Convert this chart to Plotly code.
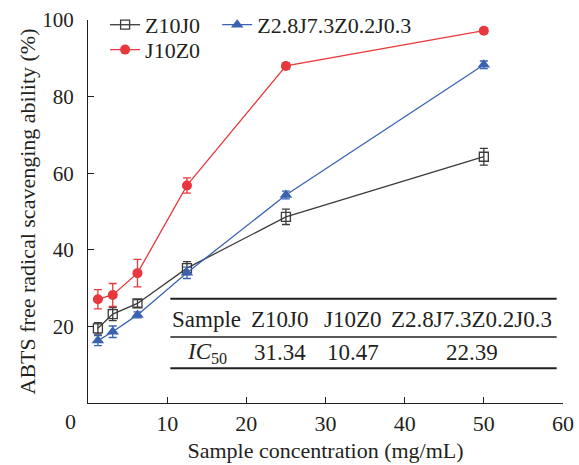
import plotly.graph_objects as go

conc = [1.25, 3.125, 6.25, 12.5, 25, 50]

z10j0 = [19.5, 23.2, 26.0, 35.2, 48.6, 64.3]
z10j0_err = [1.5, 1.7, 1.0, 1.7, 2.0, 2.2]

j10z0 = [27.1, 28.2, 33.9, 56.8, 88.0, 97.2]
j10z0_err = [2.5, 3.0, 3.6, 2.0, 0.8, 0.6]

mix = [16.3, 18.6, 23.0, 34.0, 54.3, 88.3]
mix_err = [1.3, 1.5, 0.8, 1.5, 1.0, 1.0]

table_header = ["Sample", "Z10J0", "J10Z0", "Z2.8J7.3Z0.2J0.3"]
table_row = ["<i>IC</i><sub>50</sub>", "31.34", "10.47", "22.39"]
table_cols_x = [15.0, 24.3, 33.5, 48.5]

x_ticks = [10, 20, 30, 40, 50, 60]
y_ticks = [20, 40, 60, 80, 100]

FONT = "Liberation Serif, Times New Roman, serif"
TXT = "#231f20"
BLACK = "#3a3a3a"
RED = "#e8383d"
BLUE = "#3b62b0"

L, R, T, B = 88, 16, 20, 62
W, H = 579, 465
PW, PH = W - L - R, H - T - B

fig = go.Figure()

fig.add_trace(go.Scatter(
    x=conc, y=z10j0, name="Z10J0", mode="lines+markers",
    line=dict(color=BLACK, width=1.3),
    marker=dict(symbol="square-open", size=9, color=BLACK, line=dict(width=1.3, color=BLACK)),
    error_y=dict(type="data", array=z10j0_err, color=BLACK, thickness=1.3, width=4),
    legend="legend",
))
fig.add_trace(go.Scatter(
    x=conc, y=mix, name="Z2.8J7.3Z0.2J0.3", mode="lines+markers",
    line=dict(color=BLUE, width=1.3),
    marker=dict(symbol="triangle-up", size=11, color=BLUE),
    error_y=dict(type="data", array=mix_err, color=BLUE, thickness=1.3, width=4),
    legend="legend3",
))
fig.add_trace(go.Scatter(
    x=conc, y=j10z0, name="J10Z0", mode="lines+markers",
    line=dict(color=RED, width=1.3),
    marker=dict(symbol="circle", size=10, color=RED),
    error_y=dict(type="data", array=j10z0_err, color=RED, thickness=1.3, width=4),
    legend="legend2",
))

# table lines
for yv, w in [(27.2, 2), (17.2, 1.5), (9.1, 2)]:
    fig.add_shape(type="line", xref="x", yref="y", x0=10.4, x1=59.2, y0=yv, y1=yv,
                  line=dict(color=TXT, width=w))
for xv, txt in zip(table_cols_x, table_header):
    fig.add_annotation(x=xv, y=21.8, xref="x", yref="y", text=txt, showarrow=False,
                       xanchor="center", yanchor="middle",
                       font=dict(family=FONT, size=23, color=TXT))
for xv, txt in zip(table_cols_x, table_row):
    fig.add_annotation(x=xv, y=13.1, xref="x", yref="y", text=txt, showarrow=False,
                       xanchor="center", yanchor="middle",
                       font=dict(family=FONT, size=23, color=TXT))

# shared origin label
fig.add_annotation(x=(70 - L) / PW, y=(H - B - 421) / PH, xref="paper", yref="paper",
                   text="0", showarrow=False, xanchor="center", yanchor="middle",
                   font=dict(family=FONT, size=22, color=TXT))

legend_common = dict(orientation="h", xanchor="left", yanchor="top",
                     bgcolor="rgba(0,0,0,0)", font=dict(family=FONT, size=22, color=TXT),
                     itemwidth=30)

fig.update_layout(
    width=W, height=H,
    margin=dict(l=L, r=R, t=T, b=B, autoexpand=False),
    paper_bgcolor="white", plot_bgcolor="white",
    font=dict(family=FONT, size=22, color=TXT),
    xaxis=dict(range=[0, 60], tickvals=x_ticks, ticks="inside", ticklen=6, tickwidth=1.3,
               tickcolor=TXT, showline=True, linecolor=TXT, linewidth=1.3, showgrid=False,
               zeroline=False, automargin=False, ticklabelstandoff=0,
               tickfont=dict(family=FONT, size=22, color=TXT),
               title=dict(text="Sample concentration (mg/mL)", standoff=8,
                          font=dict(family=FONT, size=22, color=TXT))),
    yaxis=dict(range=[0, 100], tickvals=y_ticks, ticks="inside", ticklen=6, tickwidth=1.3,
               tickcolor=TXT, showline=True, linecolor=TXT, linewidth=1.3, showgrid=False,
               zeroline=False, automargin=False, ticklabelstandoff=9,
               tickfont=dict(family=FONT, size=21, color=TXT),
               title=dict(text="ABTS free radical scavenging ability (%)", standoff=0,
                          font=dict(family=FONT, size=22, color=TXT))),
    legend=dict(x=0.036, y=1.042, **legend_common),
    legend3=dict(x=0.272, y=1.042, **legend_common),
    legend2=dict(x=0.036, y=0.977, **legend_common),
    showlegend=True,
)

fig.write_html("out.html", config={"displayModeBar": False},
               post_script="document.body.style.margin='0';")
